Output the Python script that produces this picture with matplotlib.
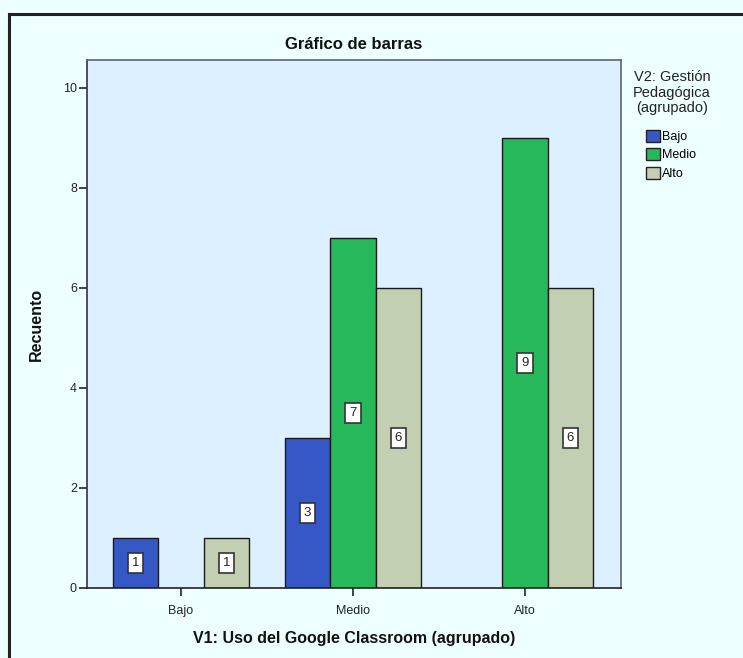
import matplotlib
matplotlib.use("Agg")
import matplotlib.pyplot as plt
import numpy as np
from matplotlib.lines import Line2D
from matplotlib.patches import Patch

plt.rcParams['font.family'] = ['Liberation Sans', 'DejaVu Sans']

categories = ["Bajo", "Medio", "Alto"]
series_names = ["Bajo", "Medio", "Alto"]
values_bajo = [1, 3, 0]
values_medio = [0, 7, 9]
values_alto = [1, 6, 6]
series_values = [values_bajo, values_medio, values_alto]
colors = ["#3558C6", "#27B85B", "#C3CFB2"]

fig = plt.figure(figsize=(7.43, 6.58), dpi=100)
fig.patch.set_facecolor("#EEFFFF")
W, H = 743, 658

# outer frame (left and top lines)
fig.add_artist(Line2D([9/W, 9/W], [0, 1 - 14/H], color="#222222", lw=2.2, transform=fig.transFigure))
fig.add_artist(Line2D([9/W, 1], [1 - 14/H, 1 - 14/H], color="#222222", lw=2.2, transform=fig.transFigure))

ax = fig.add_axes([86.7/W, 1 - 588/H, (620.7 - 86.7)/W, (588 - 60)/H])
ax.set_facecolor("#DDF0FF")

x = np.arange(len(categories))
w = 0.2645
for i, (name, vals, c) in enumerate(zip(series_names, series_values, colors)):
    pos = x + (i - 1) * w
    for xp, v in zip(pos, vals):
        if v <= 0:
            continue
        ax.bar(xp, v, width=w, color=c, edgecolor="#1a1a1a", linewidth=1.0, zorder=2)
        ax.text(xp, v / 2, str(v), ha="center", va="center", fontsize=9.5, color="#222222", zorder=3,
                bbox=dict(boxstyle="square,pad=0.3", facecolor="white", edgecolor="#333333", linewidth=1.2))

ax.set_xlim(-0.548, 2.556)
ax.set_ylim(0, 10.56)
ax.set_yticks([0, 2, 4, 6, 8, 10])
ax.set_xticks(x)
ax.set_xticklabels(categories)
ax.tick_params(axis="both", labelsize=9, colors="#222222", length=6, width=1.2, direction="out")
ax.tick_params(axis="x", pad=6)
ax.tick_params(axis="y", pad=1)
for sp in ax.spines.values():
    sp.set_color("#5a6470")
    sp.set_linewidth(1.2)
ax.spines["left"].set_color("#333333")
ax.spines["bottom"].set_color("#222222")

ax.set_title("Gráfico de barras", fontsize=12, fontweight="bold", color="#111111", pad=8)
ax.set_ylabel("Recuento", fontsize=11.5, fontweight="bold", color="#111111", labelpad=14)
ax.set_xlabel("V1: Uso del Google Classroom (agrupado)", fontsize=11.5, fontweight="bold", color="#111111", labelpad=10)

# legend
fig.text(672/W, 1 - 70/H, "V2: Gestión\nPedagógica\n(agrupado)", ha="center", va="top",
         fontsize=10.5, color="#222222", linespacing=1.15)
handles = [Patch(facecolor=c, edgecolor="#222222", linewidth=1.0) for c in colors]
leg = fig.legend(handles, series_names, loc="upper left", bbox_to_anchor=(646/W, 1 - 130/H),
                 frameon=False, fontsize=9, handlelength=1.1, handleheight=1.1,
                 handletextpad=0.15, labelspacing=0.4, borderpad=0, borderaxespad=0)

fig.savefig("out.png", dpi=100, facecolor=fig.get_facecolor())
